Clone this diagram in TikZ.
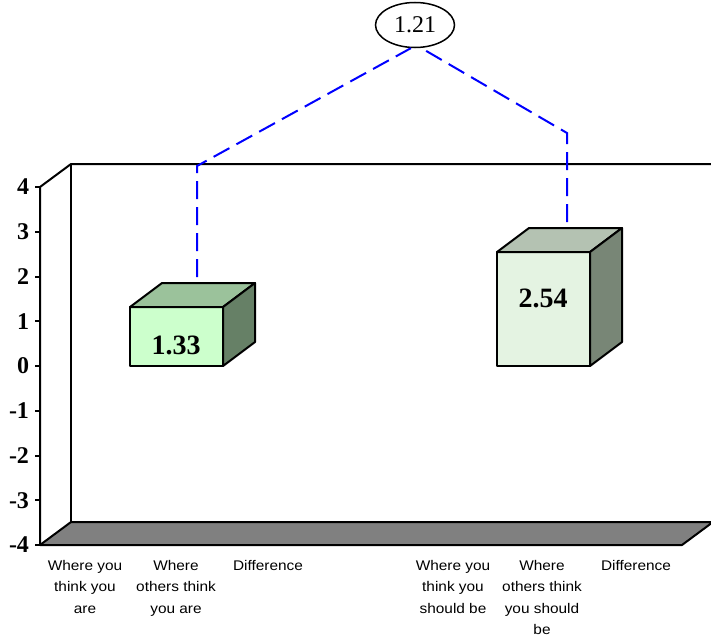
\documentclass[tikz,border=0pt]{standalone}
\usepackage{fontspec}
\setmainfont{Liberation Serif}
\newfontfamily\catfont[FakeStretch=1.1]{Liberation Sans}
\usetikzlibrary{shapes.geometric}

\definecolor{floorgray}{RGB}{128,128,128}
\definecolor{barAfront}{RGB}{204,255,204}
\definecolor{barAtop}{RGB}{155,194,155}
\definecolor{barAside}{RGB}{102,128,102}
\definecolor{barBfront}{RGB}{228,243,226}
\definecolor{barBtop}{RGB}{180,194,178}
\definecolor{barBside}{RGB}{120,134,118}

\tikzset{
	edge/.style={line width=2pt},
	face/.style={line width=2pt, line join=round},
	axislabel/.style={font=\bfseries\fontsize{24}{24}\selectfont, anchor=east, inner sep=0pt},
	catlabel/.style={font=\catfont\fontsize{14}{21.5}\selectfont, align=center, anchor=north, inner sep=0pt},
	barvalue/.style={font=\bfseries\fontsize{28}{28}\selectfont, inner sep=0pt},
	link/.style={blue, line width=2pt, dash pattern=on 18pt off 8pt},
}

\begin{document}
\begin{tikzpicture}[x=1pt, y=-1pt]
	\useasboundingbox (0,0) rectangle (711,637);
	%% back wall and floor
	\filldraw[face, fill=floorgray] (40,545) -- (71,522) -- (713,522) -- (682,545) -- cycle;
	\draw[edge] (40,545) -- (40,187) -- (71,164) -- (711,164);
	\draw[edge] (71,164) -- (71,522);
	%% value axis
	\foreach \v in {-4,...,4}
		\draw[edge] (35,{366-44.75*\v}) -- (40,{366-44.75*\v}) node[axislabel] (lab\v) at (30,{366-44.75*\v}) {\v};
	%% first bar
	\filldraw[face, fill=barAfront] (130,307) rectangle (223,366);
	\filldraw[face, fill=barAtop] (130,307) -- (162,283) -- (255,283) -- (223,307) -- cycle;
	\filldraw[face, fill=barAside] (223,307) -- (255,283) -- (255,342) -- (223,366) -- cycle;
	\node[barvalue] (val1) at (176,345) {1.33};
	%% second bar
	\filldraw[face, fill=barBfront] (497,252) rectangle (590,366);
	\filldraw[face, fill=barBtop] (497,252) -- (529,228) -- (622,228) -- (590,252) -- cycle;
	\filldraw[face, fill=barBside] (590,252) -- (622,228) -- (622,342) -- (590,366) -- cycle;
	\node[barvalue] (val2) at (543,298) {2.54};
	%% difference
	\node[draw, ellipse, line width=1.5pt, minimum width=79pt, minimum height=45pt, inner sep=0pt,
		font=\fontsize{24}{24}\selectfont] (diff) at (415,25) {1.21};
	\coordinate (top1) at (197,277);
	\coordinate (bend1) at (197,166);
	\coordinate (top2) at (567,222);
	\coordinate (bend2) at (567,133);
	\draw[link] (top1) -- (bend1) -- (diff.260);
	\draw[link] (top2) -- (bend2) -- (diff.285);
	%% categories
	\node[catlabel] (cat1) at (85,560) {Where you\\think you\\are};
	\node[catlabel] (cat2) at (176,560) {Where\\others think\\you are};
	\node[catlabel] (cat3) at (268,560) {Difference};
	\node[catlabel] (cat4) at (453,560) {Where you\\think you\\should be};
	\node[catlabel] (cat5) at (542,560) {Where\\others think\\you should\\be};
	\node[catlabel] (cat6) at (636,560) {Difference};
\end{tikzpicture}
\end{document}
